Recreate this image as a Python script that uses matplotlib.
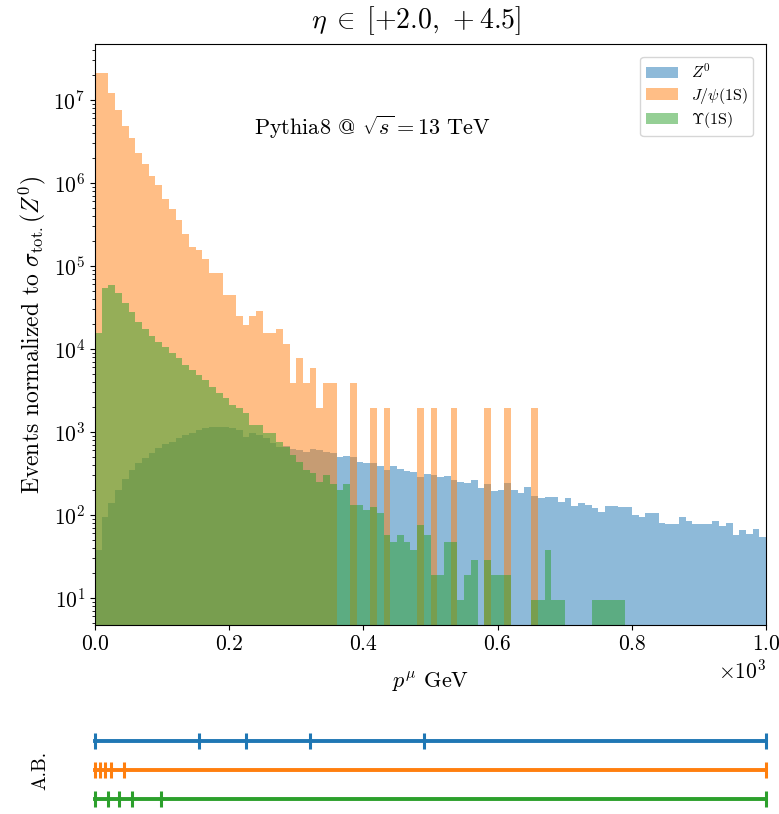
import numpy as np
import matplotlib
matplotlib.use("Agg")
import matplotlib.pyplot as plt

plt.rcParams.update({
    "font.family": "serif",
    "font.serif": ["cmr10"],
    "mathtext.fontset": "cm",
    "axes.formatter.use_mathtext": True,
    "axes.unicode_minus": False,
})

# 100 bins of 10 GeV from 0 to 1000
edges = np.linspace(0, 1000, 101)

# Z0 (blue)
z0 = [38, 95, 138, 200, 269, 348, 419, 482, 553, 636,
      711, 764, 839, 920, 982, 1057, 1107, 1159, 1159, 1138,
      1107, 1057, 877, 964, 920, 839, 731, 666, 680, 624,
      607, 579, 619, 607, 579, 558, 504, 514, 496, 439,
      420, 420, 393, 348, 393, 355, 342, 333, 289, 312,
      303, 289, 295, 264, 252, 245, 264, 210, 236, 196,
      200, 245, 200, 182, 216, 169, 162, 163, 166, 143,
      159, 130, 138, 132, 120, 110, 129, 129, 124, 124,
      100, 94, 107, 107, 81, 77, 77, 95, 85, 77,
      77, 77, 85, 74, 81, 57, 66, 59, 67, 55]

# J/psi(1S) (orange)
jpsi = [2.1e7, 2.1e7, 1.2e7, 7.6e6, 4.8e6, 3.5e6, 2.3e6, 1.7e6, 1.22e6, 9.5e5,
        6.4e5, 4.8e5, 3.6e5, 2.4e5, 1.7e5, 1.56e5, 1.2e5, 8.2e4, 8.2e4, 4.5e4,
        4.5e4, 2.5e4, 1.95e4, 2.5e4, 2.9e4, 1.55e4, 1.55e4, 1.73e4, 1.15e4, 3.9e3,
        7.8e3, 3.9e3, 5.85e3, 1.95e3, 3.9e3, 3.9e3, 0, 0, 3.9e3, 0,
        0, 1.95e3, 0, 1.95e3, 0, 0, 0, 0, 1.95e3, 0,
        1.95e3, 0, 0, 1.95e3, 0, 0, 0, 0, 1.95e3, 0,
        0, 1.95e3, 0, 0, 0, 1.95e3, 0, 0, 0, 0,
        0, 0, 0, 0, 0, 0, 0, 0, 0, 0,
        0, 0, 0, 0, 0, 0, 0, 0, 0, 0,
        0, 0, 0, 0, 0, 0, 0, 0, 0, 0]

# Upsilon(1S) (green)
ups = [15500, 55000, 59000, 47000, 36000, 28000, 21000, 17200, 14300, 12100,
       10600, 8950, 7800, 6400, 5600, 4900, 4200, 3500, 2950, 2600,
       2100, 1950, 1700, 1210, 1210, 973, 973, 760, 660, 530,
       436, 348, 321, 250, 303, 237.5, 199.5, 237.5, 133, 133,
       114, 123.5, 104.5, 57, 47.5, 57, 47.5, 38, 76, 57,
       19, 19, 47.5, 47.5, 9.5, 19, 28.5, 0, 28.5, 19,
       19, 19, 0, 0, 0, 9.5, 9.5, 38, 9.5, 9.5,
       0, 0, 0, 0, 9.5, 9.5, 9.5, 9.5, 9.5, 0,
       0, 0, 0, 0, 0, 0, 0, 0, 0, 0,
       0, 0, 0, 0, 0, 0, 0, 0, 0, 0]

labels = [r"$Z^0$", r"$J/\psi(1\mathrm{S})$", r"$\Upsilon(1\mathrm{S})$"]
colors = ["C0", "C1", "C2"]

# adaptive binning edges (A.B.)
ab_z0 = [0, 155, 225, 320, 490, 1000]
ab_jpsi = [0, 7, 15, 24, 43, 1000]
ab_ups = [0, 20, 35, 55, 98, 1000]

fig = plt.figure(figsize=(7.79, 8.14), dpi=100)
ax = fig.add_axes([0.1220, 0.2322, 0.8614, 0.7138])

centers = 0.5 * (edges[:-1] + edges[1:])
ax.set_yscale("log")
for vals, lab, col in zip([z0, jpsi, ups], labels, colors):
    ax.hist(centers, bins=edges, weights=vals, alpha=0.5, color=col, label=lab)

ax.set_xlim(0, 1000)
ax.set_ylim(4.73, 4.73e7)
ax.ticklabel_format(axis="x", style="sci", scilimits=(0, 0), useMathText=True)
ax.tick_params(labelsize=15.5)
ax.xaxis.get_offset_text().set_fontsize(15.5)
ax.set_xlabel(r"$p^{\mu}$ GeV", fontsize=16, labelpad=12)
ax.set_ylabel(r"Events normalized to $\sigma_{\mathrm{tot.}}(Z^0)$", fontsize=17)
fig.text(0.534, 0.975, r"$\eta \;\in\; [+2.0,\, +4.5]$", ha="center", va="center",
         fontsize=20)
ax.text(0.413, 0.857, r"Pythia8 @ $\sqrt{s} = 13$ TeV", transform=ax.transAxes,
        ha="center", va="center", fontsize=16)
ax.legend(loc="upper right", fontsize=11.5, borderaxespad=0.8,
          labelspacing=0.3, borderpad=0.35)

# adaptive-binning panel
ax2 = fig.add_axes([0.1220, 0.0006, 0.8614, 0.1069])
for row, ab, col in zip([2, 1, 0], [ab_z0, ab_jpsi, ab_ups], colors):
    ax2.plot([ab[0], ab[-1]], [row, row], color=col, lw=2.8, clip_on=False)
    ax2.plot(ab, [row] * len(ab), "|", color=col, ms=12, mew=2.2, clip_on=False)
ax2.set_xlim(0, 1000)
ax2.set_ylim(-0.5, 2.5)
ax2.axis("off")
fig.text(40 / 779, 1 - 770 / 814, "A.B.", rotation=90, ha="center", va="center",
         fontsize=14)

plt.savefig("out.png", dpi=100)
